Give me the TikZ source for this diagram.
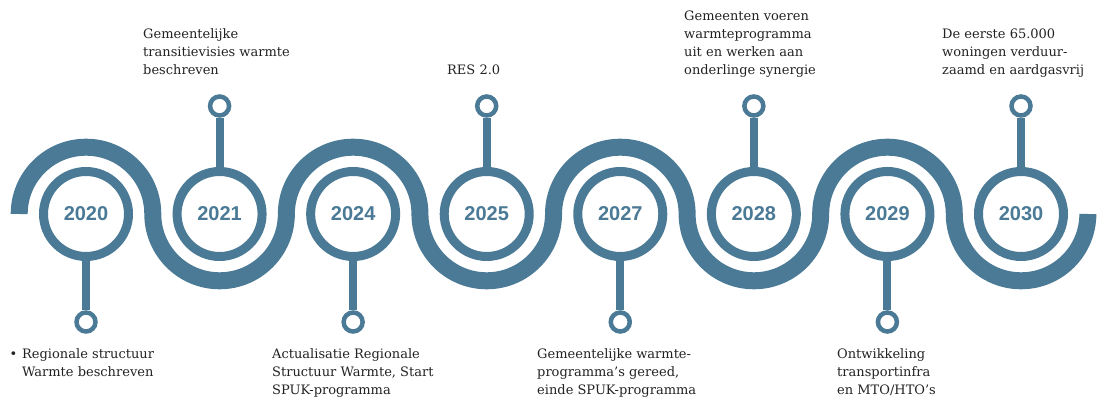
\documentclass[tikz,border=0pt]{standalone}
\usepackage{fontspec}
\setmainfont{DejaVu Serif}
\newfontfamily\yearfont{Liberation Sans}
\definecolor{wave}{HTML}{4A7A95}
\definecolor{ink}{HTML}{222222}
\begin{document}
\begin{tikzpicture}[x=1pt,y=1pt,
    year/.style={circle,draw=wave,line width=9pt,fill=white,minimum size=85pt,inner sep=0pt,
        text=wave,font=\yearfont\bfseries\fontsize{20}{24}\selectfont},
    pin/.style={circle,draw=wave,line width=4.5pt,fill=white,minimum size=19pt,inner sep=0pt},
    stem/.style={draw=wave,line width=8pt},
    note/.style={anchor=base west,align=left,inner sep=0pt,text=ink,
        font=\fontsize{13}{18}\selectfont}]
    \useasboundingbox (0,0) rectangle (1099,398);
    %% Wave
    \draw[wave,line width=17pt] (19.2,184)
        \foreach \k in {1,...,4} {
            arc[start angle=180,end angle=0,radius=66.79]
            arc[start angle=180,end angle=360,radius=66.79]
        };
    %% Years and pins
    \foreach \yr/\py [count=\i from 0] in {2020/76,2021/292,2024/76,2025/292,2027/76,2028/292,2029/76,2030/292} {
        \node[year] (y\yr) at (86+\i*133.57,184) {\yr};
        \node[pin] (p\yr) at (86+\i*133.57,\py) {};
        \draw[stem] (y\yr) -- (p\yr);
    }
    %% Notes (base = last line)
    \node[note] (n2020) at (22,21) {\llap{\textbullet\hspace{5pt}}Regionale structuur\\Warmte beschreven};
    \node[note] (n2021) at (143,323) {Gemeentelijke\\transitievisies warmte\\beschreven};
    \node[note] (n2024) at (272,3) {Actualisatie Regionale\\Structuur Warmte, Start\\SPUK-programma};
    \node[note] (n2025) at (447,323) {RES 2.0};
    \node[note] (n2027) at (537,3) {Gemeentelijke warmte-\\programma's gereed,\\einde SPUK-programma};
    \node[note] (n2028) at (684,323) {Gemeenten voeren\\warmteprogramma\\uit en werken aan\\onderlinge synergie};
    \node[note] (n2029) at (837,3) {Ontwikkeling\\transportinfra\\en MTO/HTO's};
    \node[note] (n2030) at (942,323) {De eerste 65.000\\woningen verduur-\\zaamd en aardgasvrij};
\end{tikzpicture}
\end{document}
